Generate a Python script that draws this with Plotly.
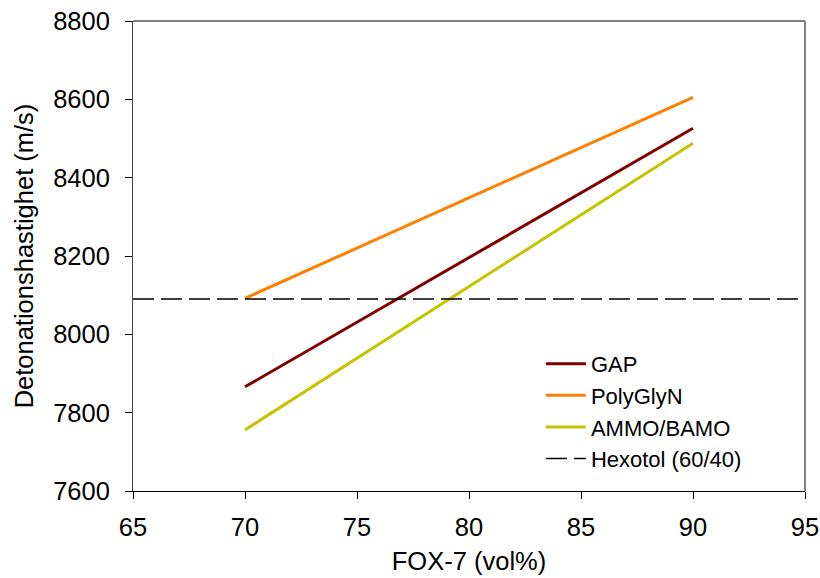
import plotly.graph_objects as go

fox7 = [70, 90]
gap = [7866, 8526]
polyglyn = [8092, 8605]
ammo_bamo = [7756, 8488]
hexotol_x = [65, 95]
hexotol = [8090, 8090]

x_ticks = [65, 70, 75, 80, 85, 90, 95]
y_ticks = [7600, 7800, 8000, 8200, 8400, 8600, 8800]

FONT = "Liberation Sans, Arial, sans-serif"

fig = go.Figure()
fig.add_trace(go.Scatter(x=fox7, y=gap, mode="lines", name="GAP",
                         line=dict(color="#800000", width=3)))
fig.add_trace(go.Scatter(x=fox7, y=polyglyn, mode="lines", name="PolyGlyN",
                         line=dict(color="#FF8000", width=3)))
fig.add_trace(go.Scatter(x=fox7, y=ammo_bamo, mode="lines", name="AMMO/BAMO",
                         line=dict(color="#C4C400", width=3)))
fig.add_trace(go.Scatter(x=hexotol_x, y=hexotol, mode="lines", name="Hexotol (60/40)",
                         line=dict(color="#000000", width=1.5, dash="21px,7px")))

fig.update_layout(
    width=820, height=578,
    margin=dict(l=133, r=15, t=21, b=87),
    paper_bgcolor="white", plot_bgcolor="white",
    font=dict(family=FONT, size=22, color="black"),
    showlegend=True,
    legend=dict(x=0.607, y=0.315, xanchor="left", yanchor="top",
                bgcolor="rgba(0,0,0,0)", font=dict(size=22),
                itemwidth=40, tracegroupgap=0),
    xaxis=dict(range=[65, 95], tickvals=x_ticks, ticktext=[str(v) for v in x_ticks],
               showgrid=False, zeroline=False, showline=True, linecolor="black", linewidth=1,
               ticks="outside", ticklen=7, tickcolor="black", ticklabelstandoff=6,
               tickfont=dict(size=25.5), automargin=False,
               title=dict(text="FOX-7 (vol%)", font=dict(size=25.5), standoff=12)),
    yaxis=dict(range=[7600, 8800], tickvals=y_ticks, ticktext=[str(v) for v in y_ticks],
               showgrid=False, zeroline=False, showline=True, linecolor="#444444", linewidth=1,
               ticks="outside", ticklen=7, tickcolor="black", ticklabelstandoff=10,
               tickfont=dict(size=25.5), automargin=False,
               title=dict(text="Detonationshastighet (m/s)", font=dict(size=25.5), standoff=12)),
    shapes=[
        dict(type="line", xref="paper", yref="paper", x0=0, x1=1, y0=1, y1=1,
             line=dict(color="#808080", width=2)),
        dict(type="line", xref="paper", yref="paper", x0=1, x1=1, y0=0, y1=1,
             line=dict(color="#808080", width=2)),
    ],
)

fig.write_html("out.html")
